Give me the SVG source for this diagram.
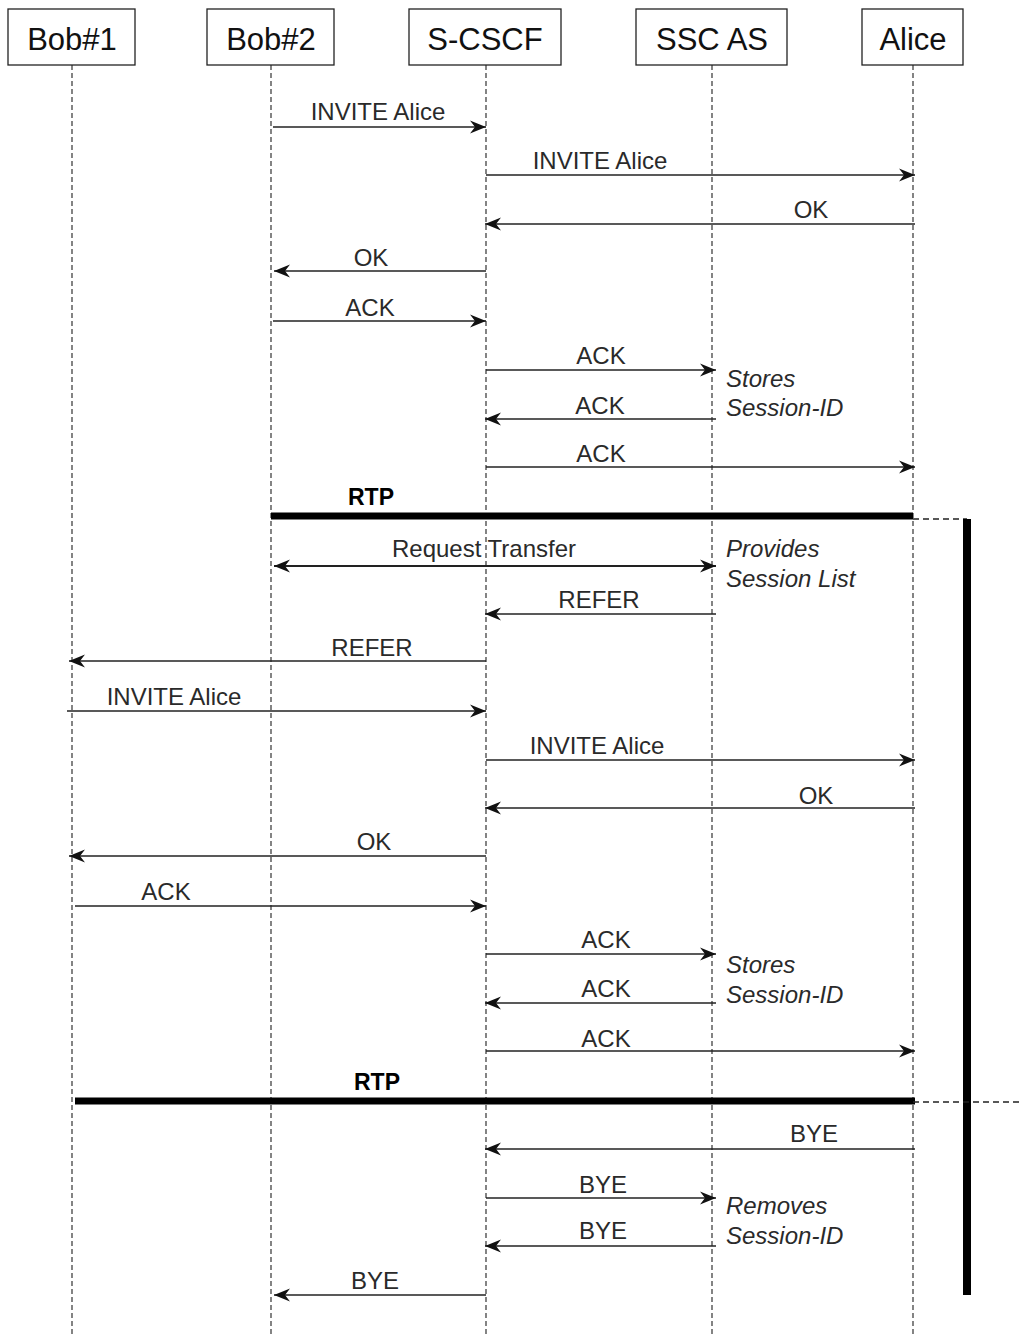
<svg xmlns="http://www.w3.org/2000/svg" width="1021" height="1335" viewBox="0 0 1021 1335">
<defs>
<style>
.box{fill:#fff;stroke:#222;stroke-width:1.3}
.hd{font-family:"Liberation Sans",Arial,sans-serif;font-size:31px;fill:#111;text-anchor:middle}
.life{stroke:#333;stroke-width:1.2;stroke-dasharray:5 3;fill:none}
.msg{stroke:#222;stroke-width:1.4;fill:none;marker-end:url(#ah)}
.lbl{font-family:"Liberation Sans",Arial,sans-serif;font-size:24px;fill:#2a2a2a;text-anchor:middle}
.note{font-family:"Liberation Sans",Arial,sans-serif;font-size:24px;fill:#2a2a2a;font-style:italic}
.rtp{stroke:#000;stroke-width:7;fill:none}
.rtpl{font-family:"Liberation Sans",Arial,sans-serif;font-size:23px;font-weight:bold;fill:#000;text-anchor:middle}
.dash{stroke:#222;stroke-width:1.3;stroke-dasharray:6 4;fill:none}
</style>
<marker id="ah" viewBox="0 0 17 14" refX="16" refY="7" markerWidth="17" markerHeight="14" markerUnits="userSpaceOnUse" orient="auto-start-reverse">
<path d="M0,0.5 L16,7 L0,13.5 L5,7 Z" fill="#111"/>
</marker>
</defs>
<rect width="1021" height="1335" fill="#fff"/>
<g id="lifelines">
<line class="life" x1="72" y1="65" x2="72" y2="1335"/>
<line class="life" x1="271" y1="65" x2="271" y2="1335"/>
<line class="life" x1="486" y1="65" x2="486" y2="1335"/>
<line class="life" x1="712" y1="65" x2="712" y2="1335"/>
<line class="life" x1="913" y1="65" x2="913" y2="1335"/>
</g>
<g id="bob1"><rect class="box" x="8" y="9" width="127" height="56"/><text class="hd" x="72" y="50">Bob#1</text></g>
<g id="bob2"><rect class="box" x="207" y="9" width="127" height="56"/><text class="hd" x="271" y="50">Bob#2</text></g>
<g id="scscf"><rect class="box" x="409" y="9" width="152" height="56"/><text class="hd" x="485" y="50">S-CSCF</text></g>
<g id="sscas"><rect class="box" x="636" y="9" width="151" height="56"/><text class="hd" x="712" y="50">SSC AS</text></g>
<g id="alice"><rect class="box" x="862" y="9" width="101" height="56"/><text class="hd" x="913" y="50">Alice</text></g>
<g id="connectors">
<line class="msg" x1="273" y1="127" x2="486" y2="127"/>
<line class="msg" x1="486" y1="175" x2="915" y2="175"/>
<line class="msg" x1="915" y1="224" x2="485" y2="224"/>
<line class="msg" x1="486" y1="271" x2="274" y2="271"/>
<line class="msg" x1="273" y1="321" x2="486" y2="321"/>
<line class="msg" x1="486" y1="370" x2="716" y2="370"/>
<line class="msg" x1="716" y1="419" x2="485" y2="419"/>
<line class="msg" x1="486" y1="467" x2="915" y2="467"/>
<line class="rtp" x1="271" y1="516" x2="913" y2="516"/>
<polyline class="dash" points="913,519 967,519"/>
<line x1="967" y1="519" x2="967" y2="1295" stroke="#000" stroke-width="8"/>
<line class="msg" x1="274" y1="566" x2="716" y2="566" style="marker-start:url(#ah);stroke-width:2"/>
<line class="msg" x1="716" y1="614" x2="485" y2="614"/>
<line class="msg" x1="486" y1="661" x2="69" y2="661"/>
<line class="msg" x1="67" y1="711" x2="486" y2="711"/>
<line class="msg" x1="486" y1="760" x2="915" y2="760"/>
<line class="msg" x1="915" y1="808" x2="485" y2="808"/>
<line class="msg" x1="486" y1="856" x2="69" y2="856"/>
<line class="msg" x1="75" y1="906" x2="486" y2="906"/>
<line class="msg" x1="486" y1="954" x2="716" y2="954"/>
<line class="msg" x1="716" y1="1003" x2="485" y2="1003"/>
<line class="msg" x1="486" y1="1051" x2="915" y2="1051"/>
<line class="rtp" x1="75" y1="1101" x2="915" y2="1101"/>
<polyline class="dash" points="913,1102 1021,1102"/>
<line class="msg" x1="915" y1="1149" x2="485" y2="1149"/>
<line class="msg" x1="486" y1="1198" x2="716" y2="1198"/>
<line class="msg" x1="716" y1="1246" x2="485" y2="1246"/>
<line class="msg" x1="486" y1="1295" x2="274" y2="1295"/>
</g>
<g id="labels">
<text class="lbl" x="378" y="120">INVITE Alice</text>
<text class="lbl" x="600" y="169">INVITE Alice</text>
<text class="lbl" x="811" y="218">OK</text>
<text class="lbl" x="371" y="266">OK</text>
<text class="lbl" x="370" y="316">ACK</text>
<text class="lbl" x="601" y="364">ACK</text>
<text class="lbl" x="600" y="414">ACK</text>
<text class="lbl" x="601" y="462">ACK</text>
<text class="rtpl" x="371" y="505">RTP</text>
<text class="lbl" x="484" y="557">Request Transfer</text>
<text class="lbl" x="599" y="608">REFER</text>
<text class="lbl" x="372" y="656">REFER</text>
<text class="lbl" x="174" y="705">INVITE Alice</text>
<text class="lbl" x="597" y="754">INVITE Alice</text>
<text class="lbl" x="816" y="804">OK</text>
<text class="lbl" x="374" y="850">OK</text>
<text class="lbl" x="166" y="900">ACK</text>
<text class="lbl" x="606" y="948">ACK</text>
<text class="lbl" x="606" y="997">ACK</text>
<text class="lbl" x="606" y="1047">ACK</text>
<text class="rtpl" x="377" y="1090">RTP</text>
<text class="lbl" x="814" y="1142">BYE</text>
<text class="lbl" x="603" y="1193">BYE</text>
<text class="lbl" x="603" y="1239">BYE</text>
<text class="lbl" x="375" y="1289">BYE</text>
</g>
<g id="notes">
<text class="note" x="726" y="387">Stores</text>
<text class="note" x="726" y="416">Session-ID</text>
<text class="note" x="726" y="557">Provides</text>
<text class="note" x="726" y="587">Session List</text>
<text class="note" x="726" y="973">Stores</text>
<text class="note" x="726" y="1003">Session-ID</text>
<text class="note" x="726" y="1214">Removes</text>
<text class="note" x="726" y="1244">Session-ID</text>
</g>
</svg>
